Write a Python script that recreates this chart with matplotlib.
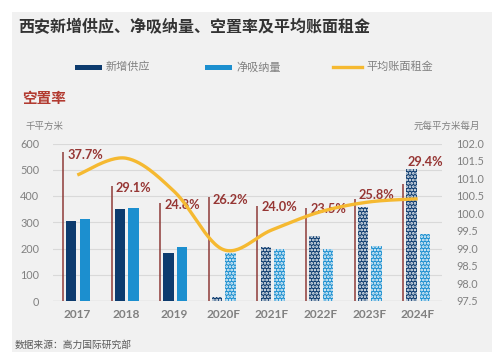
import numpy as np
import matplotlib
matplotlib.use("Agg")
import matplotlib.pyplot as plt
from matplotlib.patches import Rectangle
from matplotlib.lines import Line2D

plt.rcParams['font.family'] = ['Lato', 'Noto Sans CJK SC', 'DejaVu Sans']
plt.rcParams['hatch.color'] = 'white'
plt.rcParams['hatch.linewidth'] = 1.3

years = ['2017', '2018', '2019', '2020F', '2021F', '2022F', '2023F', '2024F']
new_supply = [306, 350, 183, 16, 204, 248, 360, 504]
net_absorption = [312, 354, 206, 181, 198, 199, 210, 255]
vacancy = [37.7, 29.1, 24.8, 26.2, 24.0, 23.5, 25.8, 29.4]
rent = [101.1, 101.58, 100.62, 98.97, 99.53, 100.05, 100.33, 100.42]
vacancy_labels = ['37.7%', '29.1%', '24.8%', '26.2%', '24.0%', '23.5%', '25.8%', '29.4%']
left_ticks = [0, 100, 200, 300, 400, 500, 600]
right_ticks = [97.5, 98.0, 98.5, 99.0, 99.5, 100.0, 100.5, 101.0, 101.5, 102.0]

W, H = 500, 360
fig = plt.figure(figsize=(W / 100, H / 100), dpi=100)
fig.patch.set_facecolor('white')

def fx(px):
    return px / W

def fy(py):
    return 1 - py / H

# grey panel
fig.patches.append(Rectangle((fx(12), fy(352)), fx(480), (340) / H,
                             transform=fig.transFigure, facecolor='#F1F1F1',
                             edgecolor='none', zorder=-10))

DARK = '#0D3B6E'
LIGHT = '#1C8FCF'
GOLD = '#F5B931'
RED_LINE = '#8E3B38'
RED_TXT = '#963634'
GREY = '#808080'

ax = fig.add_axes([fx(53), fy(301), fx(442) - fx(53), (301 - 143.5) / H])
ax.set_facecolor('none')
x = np.arange(len(years))
forecast = [y.endswith('F') for y in years]

bw = 0.215
for i in x:
    hatch = '.....' if forecast[i] else None
    ax.bar(i - 0.125, new_supply[i], width=bw, color=DARK, hatch=hatch,
           edgecolor='white' if hatch else DARK, linewidth=0, zorder=3)
    ax.bar(i + 0.155, net_absorption[i], width=bw, color=LIGHT, hatch=hatch,
           edgecolor='white' if hatch else LIGHT, linewidth=0, zorder=3)

ax.set_xlim(-0.5, len(years) - 0.5)
ax.set_ylim(0, 600)
ax.set_yticks(left_ticks)
ax.set_yticklabels([str(t) for t in left_ticks])
ax.set_xticks(x)
ax.set_xticklabels(years, fontweight='bold', color=GREY, fontsize=8.6)
ax.tick_params(axis='x', length=0, pad=6)
ax.tick_params(axis='y', length=0, pad=10, labelcolor=GREY, labelsize=7.8)
for s in ax.spines.values():
    s.set_visible(False)
ax.grid(axis='y', color='#D9D9D9', linewidth=0.8, zorder=0)
ax.set_axisbelow(True)
ax.axhline(0, color='#C8C8C8', linewidth=0.9, zorder=2)

# vacancy axis (hidden)
axv = ax.twinx()
axv.set_ylim(0, 600 / 15.1)
axv.axis('off')
offsets = [(3, -2.5), (3, -2), (3, -1.5), (3, -2), (3, -1), (3, -1), (3, 2.5), (3, 16)]
for i in x:
    xv = i - 0.295
    axv.plot([xv, xv], [0, vacancy[i]], color=RED_LINE, linewidth=1.1, zorder=4,
             solid_capstyle='butt')
    axv.annotate(vacancy_labels[i], xy=(xv, vacancy[i]), xytext=offsets[i],
                 textcoords='offset points', ha='left', va='center',
                 fontsize=9.2, fontweight='bold', color=RED_TXT, zorder=6)

# rent axis
axr = ax.twinx()
axr.set_ylim(97.5, 102.0)
axr.set_yticks(right_ticks)
axr.set_yticklabels([f'{t:.1f}' for t in right_ticks])
axr.tick_params(axis='y', length=0, pad=10, labelcolor=GREY, labelsize=7.8)
for s in axr.spines.values():
    s.set_visible(False)

# smoothed line (Catmull-Rom, as in a spreadsheet smoothed line)
px = np.array(x, dtype=float)
py = np.array(rent, dtype=float)
P = np.column_stack([px, py])
Pext = np.vstack([P[0], P, P[-1]])
curve = []
t = np.linspace(0, 1, 30)[:, None]
for k in range(1, len(Pext) - 2):
    p0, p1, p2, p3 = Pext[k - 1], Pext[k], Pext[k + 1], Pext[k + 2]
    m1 = (p2 - p0) / 2
    m2 = (p3 - p1) / 2
    h00 = 2 * t**3 - 3 * t**2 + 1
    h10 = t**3 - 2 * t**2 + t
    h01 = -2 * t**3 + 3 * t**2
    h11 = t**3 - t**2
    seg = h00 * p1 + h10 * m1 + h01 * p2 + h11 * m2
    curve.append(seg)
curve = np.vstack(curve)
axr.plot(curve[:, 0], curve[:, 1], color=GOLD, linewidth=2.4, zorder=5,
         solid_capstyle='butt')

# texts
fig.text(fx(18), fy(27), '西安新增供应、净吸纳量、空置率及平均账面租金', fontsize=11.5,
         fontweight='bold', color='#333333', ha='left', va='center',
         family=['Noto Sans CJK SC', 'DejaVu Sans'])

# legend (manual)
fig.patches.append(Rectangle((fx(75), fy(70)), fx(27), 5 / H, transform=fig.transFigure,
                             facecolor=DARK, edgecolor='none'))
fig.text(fx(106), fy(67), '新增供应', fontsize=8, color=GREY, ha='left', va='center',
         family=['Noto Sans CJK SC', 'DejaVu Sans'])
fig.patches.append(Rectangle((fx(205), fy(70)), fx(27), 5 / H, transform=fig.transFigure,
                             facecolor=LIGHT, edgecolor='none'))
fig.text(fx(236), fy(67), '净吸纳量', fontsize=8, color=GREY, ha='left', va='center',
         family=['Noto Sans CJK SC', 'DejaVu Sans'])
fig.lines.append(Line2D([fx(333), fx(362)], [fy(67), fy(67)], transform=fig.transFigure,
                        color=GOLD, linewidth=2.4))
fig.text(fx(366), fy(67), '平均账面租金', fontsize=8, color=GREY, ha='left', va='center',
         family=['Noto Sans CJK SC', 'DejaVu Sans'])

fig.text(fx(22), fy(98), '空置率', fontsize=10.5, fontweight='bold', color='#B23A30',
         ha='left', va='center', family=['Noto Sans CJK SC', 'DejaVu Sans'])
fig.text(fx(25), fy(126), '千平方米', fontsize=6.8, color=GREY, ha='left', va='center',
         family=['Noto Sans CJK SC', 'DejaVu Sans'])
fig.text(fx(480), fy(126), '元每平方米每月', fontsize=6.8, color=GREY, ha='right',
         va='center', family=['Noto Sans CJK SC', 'DejaVu Sans'])
fig.text(fx(15), fy(345), '数据来源：高力国际研究部', fontsize=7, color='#595959',
         ha='left', va='center', family=['Noto Sans CJK SC', 'DejaVu Sans'])

fig.savefig('out.png', dpi=100, facecolor='white')
